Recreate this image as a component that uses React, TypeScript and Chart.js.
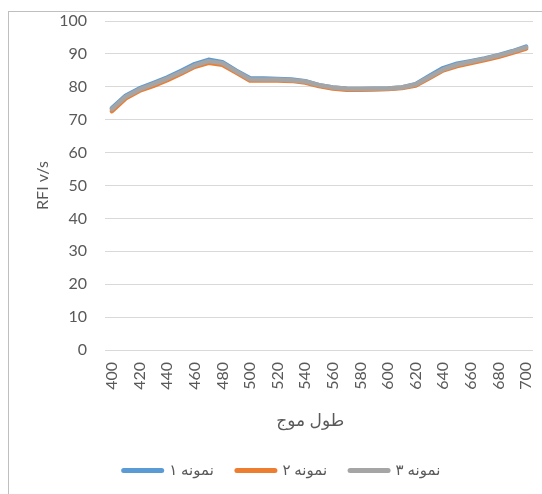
import React, { useEffect, useRef } from "react";
import { Chart, registerables } from "chart.js";

Chart.register(...registerables);

const wavelengths = [
  400, 410, 420, 430, 440, 450, 460, 470, 480, 490, 500, 510, 520, 530, 540, 550,
  560, 570, 580, 590, 600, 610, 620, 630, 640, 650, 660, 670, 680, 690, 700,
];

const sample1 = [
  73.5, 77.3, 79.5, 81.1, 82.8, 84.8, 86.9, 88.2, 87.5, 84.9, 82.6, 82.5, 82.4, 82.2, 81.7, 80.5,
  79.8, 79.4, 79.3, 79.4, 79.5, 79.8, 80.8, 83.3, 85.7, 87.0, 87.8, 88.6, 89.6, 90.8, 92.2,
];

const sample2 = [
  72.6, 76.5, 78.8, 80.3, 82.0, 84.0, 86.1, 87.3, 86.7, 84.3, 81.9, 81.9, 81.9, 81.8, 81.3, 80.2,
  79.5, 79.1, 79.1, 79.2, 79.3, 79.6, 80.4, 82.7, 85.0, 86.3, 87.2, 88.1, 89.1, 90.3, 91.6,
];

const sample3 = [
  73.2, 77.0, 79.2, 80.8, 82.5, 84.4, 86.5, 87.8, 87.2, 84.7, 82.3, 82.2, 82.2, 82.0, 81.6, 80.5,
  79.8, 79.4, 79.3, 79.4, 79.5, 79.8, 80.7, 83.0, 85.3, 86.7, 87.6, 88.5, 89.5, 90.7, 92.0,
];

const seriesNames = ["نمونه ۱", "نمونه ۲", "نمونه ۳"];
const seriesColors = ["#5B9BD5", "#ED7D31", "#A5A5A5"];
const xTitle = "طول موج\u00A0\u00A0\u00A0\u00A0";
const yTitle = "RFI v/s";

const FONT = 'Lato, "DejaVu Sans", sans-serif';
const TEXT = "#595959";

const zeroPadding = (scale: any) => {
  scale.paddingTop = 0;
  scale.paddingBottom = 0;
  scale.paddingLeft = 0;
  scale.paddingRight = 0;
};

const shiftLegend = {
  id: "shiftLegend",
  afterLayout(chart: any) {
    if (chart.legend) {
      chart.legend.left += 11;
      chart.legend.right += 11;
    }
  },
};

export default function App() {
  const ref = useRef<HTMLCanvasElement | null>(null);

  useEffect(() => {
    if (!ref.current) return;
    const values = [sample1, sample2, sample3];
    const chart = new Chart(ref.current, {
      type: "line",
      data: {
        labels: wavelengths.map(String),
        datasets: values.map((v, i) => ({
          label: seriesNames[i],
          data: v,
          borderColor: seriesColors[i],
          backgroundColor: seriesColors[i],
          borderWidth: 4.5,
          borderCapStyle: "round" as const,
          borderJoinStyle: "round" as const,
          pointRadius: 0,
          tension: 0,
          order: 3 - i,
        })),
      },
      plugins: [shiftLegend],
      options: {
        responsive: false,
        animation: false,
        layout: { padding: { left: 0, right: 9, top: 9, bottom: 6 } },
        scales: {
          x: {
            type: "category",
            offset: true,
            grid: { display: false, drawTicks: false },
            border: { display: false },
            ticks: {
              autoSkip: false,
              minRotation: 90,
              maxRotation: 90,
              padding: 12,
              color: TEXT,
              font: { family: FONT, size: 16 },
              callback: function (_v: any, idx: number) {
                return idx % 2 === 0 ? String(wavelengths[idx]) : "";
              },
            },
            title: {
              display: true,
              text: xTitle,
              color: TEXT,
              font: { family: FONT, size: 17 },
              padding: { top: 0, bottom: 9 },
            },
            afterFit: (scale: any) => {
              scale.height = 90;
              zeroPadding(scale);
            },
          },
          y: {
            min: 0,
            max: 100,
            grid: { color: "#d9d9d9", lineWidth: 1, drawTicks: false },
            border: { display: false },
            ticks: {
              stepSize: 10,
              padding: 18,
              color: TEXT,
              font: { family: FONT, size: 16 },
            },
            title: {
              display: true,
              text: yTitle,
              color: TEXT,
              font: { family: FONT, size: 16 },
              padding: { top: 24, bottom: 0 },
            },
            afterFit: (scale: any) => {
              scale.width = 96;
              zeroPadding(scale);
            },
          },
        },
        plugins: {
          tooltip: { enabled: false },
          legend: {
            position: "bottom",
            labels: {
              usePointStyle: true,
              pointStyleWidth: 38,
              boxHeight: 15,
              padding: 23,
              color: TEXT,
              font: { family: FONT, size: 15 },
              sort: (a: any, b: any) => a.datasetIndex - b.datasetIndex,
              generateLabels: (ch: any) => {
                const base = (Chart.defaults.plugins.legend.labels as any).generateLabels(ch);
                return base.map((it: any) => ({
                  ...it,
                  pointStyle: "line",
                  lineWidth: 5,
                  lineCap: "round",
                  strokeStyle: seriesColors[it.datasetIndex],
                  fillStyle: seriesColors[it.datasetIndex],
                  fontColor: TEXT,
                }));
              },
            },
          },
        },
      },
    });
    return () => chart.destroy();
  }, []);

  return (
    <div
      style={{
        position: "absolute",
        left: 8,
        top: 11,
        width: 534,
        height: 483,
        boxSizing: "border-box",
        borderLeft: "1px solid #bfbfbf",
        borderTop: "1px solid #bfbfbf",
        background: "#ffffff",
      }}
    >
      <canvas ref={ref} width={533} height={482} style={{ display: "block" }} />
    </div>
  );
}
